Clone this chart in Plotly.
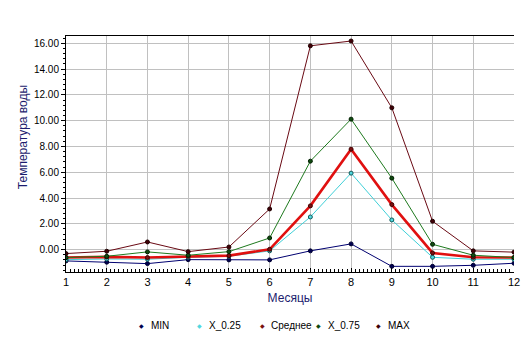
import plotly.graph_objects as go

# Monthly water temperature statistics
months = [1, 2, 3, 4, 5, 6, 7, 8, 9, 10, 11, 12]
t_min = [-0.88, -0.98, -1.09, -0.78, -0.80, -0.80, -0.10, 0.44, -1.30, -1.30, -1.22, -1.06]
t_q25 = [-0.78, -0.73, -0.75, -0.60, -0.52, -0.10, 2.53, 5.93, 2.30, -0.60, -0.75, -0.75]
t_mean = [-0.62, -0.57, -0.62, -0.52, -0.47, 0.02, 3.39, 7.79, 3.49, -0.26, -0.60, -0.62]
t_q75 = [-0.62, -0.52, -0.18, -0.44, -0.16, 0.90, 6.86, 10.12, 5.54, 0.41, -0.44, -0.62]
t_max = [-0.31, -0.13, 0.59, -0.16, 0.20, 3.15, 15.81, 16.18, 11.00, 2.20, -0.10, -0.20]

series_names = ["MIN", "X_0.25", "Среднее", "X_0.75", "MAX"]
series_values = [t_min, t_q25, t_mean, t_q75, t_max]
line_colors = ["#000070", "#40d0d8", "#e01010", "#1e7a1e", "#6a0a14"]
marker_fills = ["#000050", "#50d8e0", "#7a1010", "#104a10", "#400008"]
marker_edges = ["#000030", "#105858", "#400000", "#002000", "#200000"]
line_widths = [1, 1, 2.6, 1, 1]

FONT = "Liberation Sans, Arial, sans-serif"
TITLE_COLOR = "#1c1c6e"

fig = go.Figure()
for name, vals, lc, mf, me, lw in zip(series_names, series_values, line_colors,
                                      marker_fills, marker_edges, line_widths):
    fig.add_trace(go.Scatter(
        x=months, y=vals, name=name, mode="lines+markers",
        line=dict(color=lc, width=lw),
        marker=dict(size=4, color=mf, line=dict(color=me, width=1)),
        showlegend=False,
    ))

# Legend row drawn beneath the axis title
legend_marker_x = [0.1689, 0.2978, 0.4378, 0.5644, 0.6978]
legend_y = -0.225
annotations = []
for name, mf, lx in zip(series_names, marker_fills, legend_marker_x):
    annotations.append(dict(
        text="◆", x=lx, y=legend_y, xref="paper", yref="paper",
        xanchor="center", yanchor="middle", showarrow=False,
        font=dict(family="DejaVu Sans", size=6, color=mf),
    ))
    annotations.append(dict(
        text=name, x=lx + 0.016, y=legend_y, xref="paper", yref="paper",
        xanchor="left", yanchor="middle", showarrow=False,
        font=dict(family=FONT, size=10, color="#000000"),
    ))

annotations.append(dict(
    text="Температура воды", x=-0.0956, y=0.572, xref="paper", yref="paper",
    xanchor="center", yanchor="middle", textangle=-90, showarrow=False,
    font=dict(family=FONT, size=12, color=TITLE_COLOR),
))

fig.update_layout(
    width=532, height=347,
    margin=dict(l=66, r=16, t=36, b=75),
    paper_bgcolor="white", plot_bgcolor="white",
    font=dict(family=FONT, size=10, color="#000000"),
    annotations=annotations,
    xaxis=dict(
        range=[1, 12], tickmode="linear", tick0=1, dtick=1,
        showgrid=True, gridcolor="#c0c0c0", gridwidth=1,
        showline=True, linecolor="#000000", linewidth=1, mirror=True,
        ticks="inside", ticklen=4, tickcolor="#000000",
        minor=dict(dtick=0.1, ticks="inside", ticklen=3, tickcolor="#000000", showgrid=False),
        zeroline=False,
        title=dict(text="Месяцы", font=dict(family=FONT, size=12, color=TITLE_COLOR), standoff=6),
        tickfont=dict(family=FONT, size=11),
    ),
    yaxis=dict(
        range=[-1.74, 16.57], tickmode="linear", tick0=0, dtick=2, tickformat=".2f",
        showgrid=True, gridcolor="#c0c0c0", gridwidth=1,
        showline=True, linecolor="#000000", linewidth=1,
        ticks="outside", ticklen=4, tickcolor="#000000",
        minor=dict(dtick=0.4, ticks="outside", ticklen=2, tickcolor="#000000", showgrid=False),
        zeroline=False,
        tickfont=dict(family=FONT, size=10),
    ),
)

fig.write_html("out.html")
